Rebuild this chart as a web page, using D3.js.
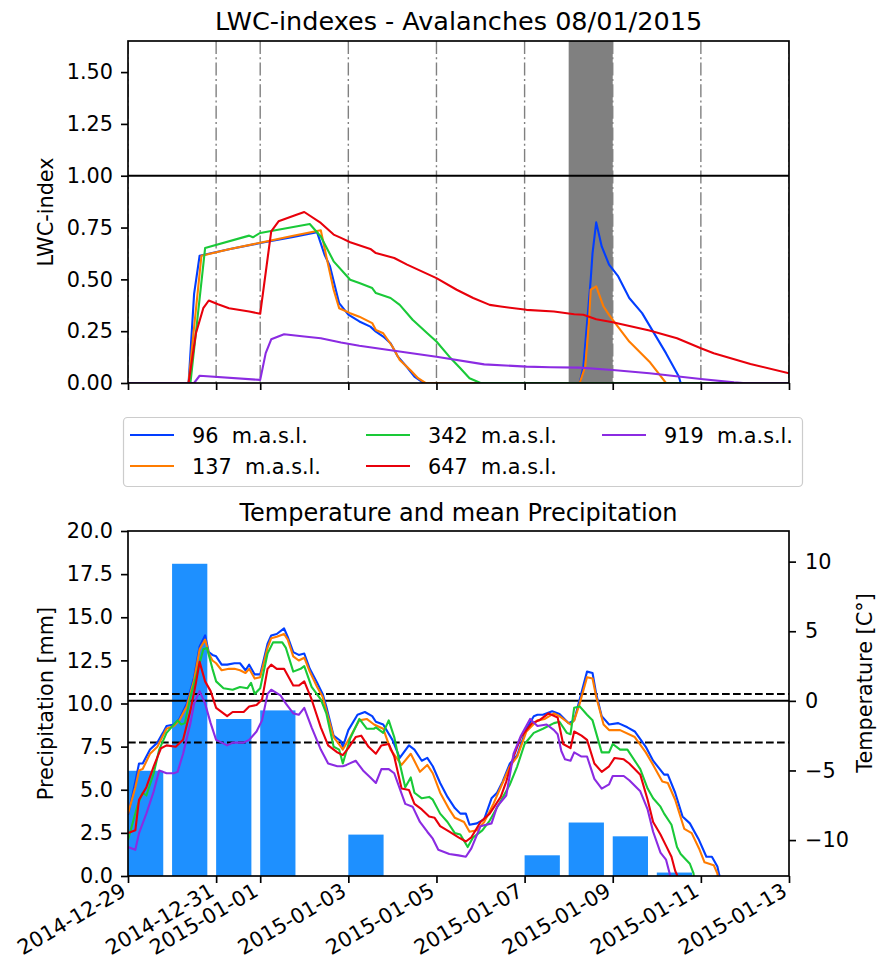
<!DOCTYPE html>
<html>
<head>
<meta charset="utf-8">
<script src="https://cdn.jsdelivr.net/npm/d3@7"></script>
<style>
  body { margin: 0; background: #fff; }
  text { font-family: "DejaVu Sans", sans-serif; fill: #000; }
</style>
</head>
<body>
<svg id="chart" width="880" height="971"></svg>
<script>
// ---- data -------------------------------------------------------------
// time stamps are hours after 2014-12-29 00:00
const seriesStart = "2014-12-29";
const elevations = ["96", "137", "342", "647", "919"];
const seriesColors = ["#023eff", "#ff7c00", "#1ac938", "#e8000b", "#8b2be2"];

const tickDates = ["2014-12-29", "2014-12-31", "2015-01-01", "2015-01-03", "2015-01-05",
                   "2015-01-07", "2015-01-09", "2015-01-11", "2015-01-13"];
const avalancheDay = ["2015-01-08", "2015-01-09"];

const lwcTicks = [0, 0.25, 0.5, 0.75, 1.0, 1.25, 1.5];
const precipTicks = [0, 2.5, 5, 7.5, 10, 12.5, 15, 17.5, 20];
const tempTicks = [-10, -5, 0, 5, 10];
const tempDashed = [0.5, -3];

// LWC-index per station: [hour, index]
const lwc96 = [[0,0],[33,0],[36,0.43],[39,0.614],[55,0.645],[72,0.675],[90,0.705],[103,0.727],
  [107,0.62],[110,0.563],[115,0.385],[120,0.33],[126,0.297],[132,0.272],[135,0.248],[139,0.224],
  [143,0.192],[147,0.127],[152,0.076],[156,0.031],[161,0],[246,0],[248,0.079],[250,0.289],
  [252,0.498],[253,0.627],[255,0.775],[258,0.659],[262,0.571],[267,0.514],[273,0.41],[280,0.337],
  [286,0.248],[293,0.144],[300,0.031],[301,0],[360,0]];
const lwc137 = [[0,0],[33,0],[36,0.27],[40,0.614],[55,0.645],[72,0.677],[90,0.71],[105,0.737],
  [108,0.611],[112,0.45],[115,0.361],[121,0.337],[126,0.32],[133,0.289],[135,0.256],[139,0.24],
  [144,0.176],[148,0.111],[154,0.06],[158,0.023],[162,0],[246,0],[249,0.079],[251,0.289],
  [252,0.45],[255,0.466],[259,0.369],[262,0.329],[264,0.305],[273,0.2],[284,0.103],[293,0],[360,0]];
const lwc342 = [[0,0],[34,0],[42,0.651],[66,0.711],[68,0.703],[72,0.724],[99,0.767],[105,0.707],
  [112,0.587],[121,0.498],[126,0.482],[133,0.458],[135,0.434],[143,0.41],[148,0.377],[155,0.305],
  [163,0.24],[168,0.2],[175,0.127],[181,0.071],[186,0.023],[192,0],[360,0]];
const lwc647 = [[0,0],[33,0],[37,0.24],[41,0.361],[44,0.398],[49,0.38],[55,0.361],[66,0.345],
  [72,0.334],[78,0.732],[82,0.78],[91,0.809],[96,0.825],[105,0.772],[112,0.716],[116,0.70],
  [121,0.679],[132,0.647],[135,0.627],[145,0.603],[152,0.571],[168,0.506],[179,0.45],[188,0.41],
  [197,0.377],[203,0.369],[217,0.353],[232,0.345],[243,0.332],[248,0.329],[255,0.308],[264,0.293],
  [284,0.253],[299,0.216],[312,0.168],[319,0.144],[339,0.092],[360,0.047]];
const lwc919 = [[0,0],[36,0],[39,0.035],[72,0.015],[75,0.144],[78,0.211],[85,0.235],[96,0.224],
  [105,0.216],[116,0.195],[126,0.18],[145,0.156],[168,0.127],[194,0.09],[217,0.079],[230,0.076],
  [246,0.074],[264,0.063],[284,0.047],[312,0.019],[330,0.003],[335,0],[360,0]];

// air temperature per station: [hour, degC]
const temp96 = [[0,-8.2],[4,-5.8],[6,-4.5],[8,-4.5],[12,-3.5],[16,-3.0],[19,-2.3],[21,-1.8],[25,-1.7],
  [28,-1.3],[32,-0.2],[36,1.7],[39,3.9],[42,4.7],[44,3.5],[46,3.3],[48,3.2],[51,2.6],[54,2.6],[58,2.7],
  [61,2.7],[64,2.2],[66,2.6],[69,1.9],[72,1.9],[76,4.1],[78,4.7],[81,4.8],[85,5.2],[87,4.6],[90,3.5],
  [93,3.3],[96,3.4],[99,2.3],[103,1.3],[106,0.5],[108,-0.4],[112,-2.5],[116,-2.9],[117,-3.3],[120,-2.1],
  [125,-1.0],[129,-0.8],[133,-1.1],[135,-1.5],[139,-1.7],[144,-2.8],[148,-4.1],[153,-3.2],[156,-3.5],
  [160,-4.3],[163,-4.1],[166,-4.7],[170,-5.9],[174,-6.9],[178,-7.7],[181,-8.1],[184,-8.1],[186,-8.9],
  [190,-8.8],[194,-8.5],[198,-7.0],[201,-6.6],[204,-5.8],[208,-4.5],[212,-3.9],[217,-2.0],[221,-1.1],
  [223,-1.0],[226,-1.0],[231,-0.75],[235,-0.95],[240,-1.6],[243,-1.4],[246,0.1],[250,2.1],[253,2.0],
  [255,0.5],[258,-1.1],[262,-1.7],[267,-1.6],[272,-1.9],[276,-2.2],[282,-3.3],[286,-4.3],[292,-5.3],
  [294,-5.3],[298,-6.6],[302,-8.3],[306,-8.8],[311,-10.0],[315,-11.2],[318,-11.2],[321,-11.9],
  [322,-12.5],[324,-13.5]];
const temp137 = [[0,-8.1],[4,-6.2],[6,-5.0],[8,-4.9],[12,-3.8],[16,-3.3],[19,-2.5],[21,-2.0],[25,-1.8],
  [28,-1.4],[32,-0.4],[36,1.5],[39,3.7],[42,4.4],[44,3.4],[46,2.9],[48,2.7],[51,2.2],[55,2.3],[58,2.3],
  [61,2.2],[64,2.0],[66,2.3],[69,1.6],[72,1.7],[76,3.8],[78,4.5],[81,4.6],[85,4.8],[87,4.4],[90,3.2],
  [93,2.9],[96,3.1],[99,2.1],[103,1.0],[106,0.3],[108,-0.7],[112,-2.6],[116,-3.3],[117,-3.5],[121,-2.6],
  [126,-1.4],[130,-1.3],[134,-1.7],[139,-2.0],[143,-3.5],[149,-4.6],[154,-3.8],[159,-5.1],[163,-4.6],
  [166,-5.2],[170,-6.6],[175,-7.8],[178,-8.4],[183,-8.7],[186,-9.4],[190,-9.3],[194,-8.7],[199,-7.4],
  [204,-5.9],[208,-4.7],[212,-4.0],[217,-2.2],[223,-1.4],[227,-1.3],[232,-0.9],[235,-1.1],[241,-1.7],
  [243,-1.4],[246,-0.2],[250,1.7],[253,1.6],[255,0.3],[259,-1.7],[262,-2.1],[268,-2.1],[276,-2.6],
  [282,-3.7],[286,-4.6],[291,-5.8],[294,-5.9],[298,-7.1],[303,-9.2],[307,-9.5],[311,-10.6],[314,-11.6],
  [319,-11.8],[321,-12.4],[322,-13.5]];
const temp342 = [[0,-10.0],[5,-7.6],[7,-6.9],[8,-6.6],[10,-6.8],[14,-5.2],[17,-3.5],[21,-2.3],[27,-1.4],
  [29,-1.7],[31,-1.6],[34,0.3],[38,2.2],[41,3.7],[43,3.8],[46,2.3],[48,1.4],[52,0.9],[57,0.8],[61,1.0],
  [65,0.9],[67,1.3],[69,0.5],[72,0.9],[76,3.4],[79,4.2],[84,4.2],[86,3.8],[90,2.1],[94,2.3],[96,2.5],
  [100,1.0],[105,0.1],[108,-0.9],[112,-3.3],[115,-3.5],[117,-4.5],[121,-2.7],[126,-1.3],[130,-2.0],
  [134,-2.0],[135,-1.9],[139,-2.3],[142,-1.4],[145,-2.6],[148,-4.5],[151,-6.2],[154,-5.5],[156,-6.6],
  [160,-7.0],[164,-6.9],[166,-7.1],[170,-8.1],[174,-8.7],[178,-9.5],[181,-9.6],[185,-10.5],[188,-9.8],
  [193,-9.3],[197,-8.6],[203,-7.2],[208,-6.0],[212,-4.7],[216,-3.1],[221,-2.3],[226,-2.0],[232,-1.6],
  [235,-1.5],[239,-2.3],[241,-2.4],[243,-0.5],[246,-0.4],[250,-1.0],[253,-1.4],[258,-3.7],[262,-3.7],
  [264,-3.1],[268,-3.5],[272,-3.5],[277,-4.5],[279,-4.9],[283,-6.3],[286,-7.0],[290,-7.6],[292,-8.1],
  [296,-8.9],[299,-10.5],[301,-11.0],[306,-11.7],[308,-12.4],[309,-13.5]];
const temp647 = [[0,-9.5],[4,-9.3],[6,-7.1],[10,-6.2],[14,-4.7],[18,-3.4],[21,-3.2],[26,-3.3],[30,-2.8],
  [34,-0.7],[37,1.3],[39,2.8],[42,1.4],[45,0.7],[48,-0.5],[54,-1.1],[57,-0.8],[63,-0.8],[66,-0.4],
  [70,-0.3],[73,0.1],[76,2.3],[78,2.6],[81,2.3],[85,2.3],[90,1.1],[93,1.1],[96,1.4],[100,0.1],[105,-1.9],
  [109,-3.2],[114,-3.7],[117,-3.9],[120,-3.4],[124,-2.6],[127,-2.5],[131,-3.3],[135,-3.8],[138,-3.2],
  [142,-3.1],[145,-4.0],[149,-6.3],[153,-6.4],[156,-7.4],[160,-7.8],[164,-8.3],[167,-8.4],[170,-9.0],
  [175,-9.4],[180,-9.8],[184,-10.1],[187,-9.8],[192,-8.7],[197,-8.1],[203,-6.9],[206,-5.8],[210,-4.0],
  [214,-2.6],[220,-1.6],[224,-1.4],[229,-0.9],[234,-1.2],[237,-3.1],[241,-3.4],[243,-2.2],[247,-2.5],
  [250,-2.8],[254,-4.5],[258,-5.1],[262,-4.7],[265,-4.1],[270,-4.2],[273,-4.5],[279,-5.3],[283,-7.1],
  [286,-8.7],[290,-9.6],[293,-10.4],[296,-11.2],[298,-12.2],[299,-12.5],[300,-13.5]];
const temp919 = [[0,-10.5],[4,-10.7],[6,-9.5],[10,-8.1],[14,-6.5],[17,-5.0],[21,-5.2],[25,-5.2],[27,-5.1],
  [30,-3.8],[34,-1.6],[36,-0.2],[39,0.7],[42,-0.2],[45,-1.6],[48,-2.8],[54,-3.2],[57,-3.0],[63,-3.0],
  [66,-2.8],[70,-2.2],[73,-1.4],[76,0.5],[78,0.8],[83,0.4],[86,-0.2],[90,-0.9],[93,-1.0],[96,-0.5],
  [100,-1.9],[105,-3.5],[109,-4.5],[114,-4.7],[117,-4.7],[119,-4.6],[124,-4.3],[128,-5.0],[132,-5.5],
  [135,-5.9],[138,-4.9],[142,-4.9],[145,-5.2],[151,-7.4],[155,-7.6],[159,-8.7],[163,-9.4],[166,-9.9],
  [169,-10.7],[175,-11.0],[180,-11.1],[184,-11.2],[187,-10.6],[192,-9.0],[198,-8.8],[201,-7.6],
  [206,-6.8],[210,-3.8],[214,-2.5],[219,-1.3],[223,-1.8],[228,-1.7],[232,-2.1],[234,-2.4],[236,-3.6],
  [238,-4.2],[241,-4.3],[243,-3.7],[247,-4.0],[250,-4.0],[254,-5.6],[258,-6.3],[262,-6.0],[264,-5.4],
  [270,-5.4],[273,-5.7],[279,-6.5],[283,-7.8],[286,-9.4],[290,-10.9],[293,-11.4],[295,-12.4],[296,-13.5]];

// daily precipitation, mm
const precipDays = ["2014-12-29", "2014-12-30", "2014-12-31", "2015-01-01", "2015-01-02", "2015-01-03",
  "2015-01-04", "2015-01-05", "2015-01-06", "2015-01-07", "2015-01-08", "2015-01-09", "2015-01-10",
  "2015-01-11", "2015-01-12"];
const precipMm = [6.1, 18.1, 9.1, 9.6, 0, 2.4, 0, 0, 0, 1.2, 3.1, 2.3, 0.2, 0, 0];

const lwcSeries = [lwc96, lwc137, lwc342, lwc647, lwc919];
const tempSeries = [temp96, temp137, temp342, temp647, temp919];

// ---- helpers ------------------------------------------------------------
const day = s => new Date(s + "T00:00:00Z");
const t0 = day(seriesStart).getTime();
const at = h => new Date(t0 + h * 3600e3);

const FS = 20.8;           // tick / label font size
const SPINE = 1.67;
const LW = 2.1;            // data line width
const svg = d3.select("#chart");

const L = 128, R = 789;
const top1 = 41, bot1 = 383;
const top2 = 531, bot2 = 876;

const x = d3.scaleUtc().domain([day(tickDates[0]), day(tickDates[tickDates.length - 1])]).range([L, R]);
const yLwc = d3.scaleLinear().domain([0, 1.65]).range([bot1, top1]);
const yPrc = d3.scaleLinear().domain([0, 20]).range([bot2, top2]);
const yTmp = d3.scaleLinear().domain([-12.58, 12.2]).range([bot2, top2]);
const ticks = tickDates.map(day);

function styleAxis(g) {
  g.selectAll(".domain").remove();
  g.selectAll(".tick line").attr("stroke", "#000").attr("stroke-width", SPINE);
  g.selectAll(".tick text").style("font-size", FS + "px").attr("fill", "#000");
}

const defs = svg.append("defs");
defs.append("clipPath").attr("id", "clipTop")
  .append("rect").attr("x", L).attr("y", top1).attr("width", R - L).attr("height", bot1 - top1);
defs.append("clipPath").attr("id", "clipBot")
  .append("rect").attr("x", L).attr("y", top2).attr("width", R - L).attr("height", bot2 - top2);

// ---- upper panel: LWC-index --------------------------------------------
svg.append("text").attr("x", (L + R) / 2).attr("y", 30).attr("text-anchor", "middle")
  .style("font-size", "25.5px").text("LWC-indexes - Avalanches 08/01/2015");

const gTop = svg.append("g").attr("clip-path", "url(#clipTop)");

gTop.append("rect")
  .attr("x", x(day(avalancheDay[0]))).attr("y", top1)
  .attr("width", x(day(avalancheDay[1])) - x(day(avalancheDay[0])))
  .attr("height", bot1 - top1).attr("fill", "#808080");

gTop.selectAll("line.grid").data(ticks).join("line").attr("class", "grid")
  .attr("x1", d => x(d)).attr("x2", d => x(d)).attr("y1", top1).attr("y2", bot1)
  .attr("stroke", "#808080").attr("stroke-width", 1.4)
  .attr("stroke-dasharray", "13,3.3,2,3.3");

gTop.append("line").attr("x1", L).attr("x2", R).attr("y1", yLwc(1)).attr("y2", yLwc(1))
  .attr("stroke", "#000").attr("stroke-width", 2);

const lwcLine = d3.line().x(d => x(at(d[0]))).y(d => yLwc(d[1]));
gTop.selectAll("path.lwc").data(lwcSeries).join("path").attr("class", "lwc")
  .attr("d", lwcLine).attr("fill", "none")
  .attr("stroke", (d, i) => seriesColors[i]).attr("stroke-width", LW)
  .attr("stroke-linejoin", "round");

svg.append("g").attr("transform", `translate(${L},0)`)
  .call(d3.axisLeft(yLwc).tickValues(lwcTicks).tickFormat(d3.format(".2f")).tickSize(7).tickPadding(8))
  .call(styleAxis);
svg.append("g").attr("transform", `translate(0,${bot1})`)
  .call(d3.axisBottom(x).tickValues(ticks).tickFormat("").tickSize(7))
  .call(styleAxis);

svg.append("rect").attr("x", L).attr("y", top1).attr("width", R - L).attr("height", bot1 - top1)
  .attr("fill", "none").attr("stroke", "#000").attr("stroke-width", SPINE);

svg.append("text").attr("transform", `translate(53,${(top1 + bot1) / 2}) rotate(-90)`)
  .attr("text-anchor", "middle").style("font-size", FS + "px").text("LWC-index");

// ---- legend -------------------------------------------------------------
const legend = svg.append("g");
legend.append("rect").attr("x", 123.5).attr("y", 417.5).attr("width", 679).attr("height", 69)
  .attr("rx", 4).attr("fill", "#fff").attr("stroke", "#cccccc").attr("stroke-width", 1.2);
const legCols = [130, 366, 602], legRows = [435, 466];
elevations.forEach((e, i) => {
  const cx = legCols[Math.floor(i / 2)], cy = legRows[i % 2];
  legend.append("line").attr("x1", cx).attr("x2", cx + 44).attr("y1", cy).attr("y2", cy)
    .attr("stroke", seriesColors[i]).attr("stroke-width", LW);
  legend.append("text").attr("x", cx + 62).attr("y", cy + 7.5)
    .style("font-size", FS + "px").style("white-space", "pre").text(`${e}  m.a.s.l.`);
});

// ---- lower panel: temperature and precipitation ------------------------
svg.append("text").attr("x", (L + R) / 2).attr("y", 521).attr("text-anchor", "middle")
  .style("font-size", "24px").text("Temperature and mean Precipitation");

const gBot = svg.append("g").attr("clip-path", "url(#clipBot)");

const barW = d => x(new Date(day(d).getTime() + 0.8 * 864e5)) - x(day(d));
gBot.selectAll("rect.bar").data(precipDays.map((d, i) => [d, precipMm[i]])).join("rect")
  .attr("class", "bar")
  .attr("x", d => x(day(d[0]))).attr("width", d => barW(d[0]))
  .attr("y", d => yPrc(d[1])).attr("height", d => yPrc(0) - yPrc(d[1]))
  .attr("fill", "#1e90ff");

gBot.append("line").attr("x1", L).attr("x2", R).attr("y1", yTmp(0)).attr("y2", yTmp(0))
  .attr("stroke", "#000").attr("stroke-width", 2);
gBot.selectAll("line.thr").data(tempDashed).join("line").attr("class", "thr")
  .attr("x1", L).attr("x2", R).attr("y1", d => yTmp(d)).attr("y2", d => yTmp(d))
  .attr("stroke", "#000").attr("stroke-width", 2).attr("stroke-dasharray", "7.7,3.3");

const tmpLine = d3.line().x(d => x(at(d[0]))).y(d => yTmp(d[1]));
gBot.selectAll("path.tmp").data(tempSeries).join("path").attr("class", "tmp")
  .attr("d", tmpLine).attr("fill", "none")
  .attr("stroke", (d, i) => seriesColors[i]).attr("stroke-width", LW)
  .attr("stroke-linejoin", "round");

svg.append("g").attr("transform", `translate(${L},0)`)
  .call(d3.axisLeft(yPrc).tickValues(precipTicks).tickFormat(d3.format(".1f")).tickSize(7).tickPadding(8))
  .call(styleAxis);
svg.append("g").attr("transform", `translate(${R},0)`)
  .call(d3.axisRight(yTmp).tickValues(tempTicks).tickFormat(d3.format("d")).tickSize(7).tickPadding(9))
  .call(styleAxis);
const xAxis = svg.append("g").attr("transform", `translate(0,${bot2})`)
  .call(d3.axisBottom(x).tickValues(ticks).tickFormat(d3.utcFormat("%Y-%m-%d")).tickSize(7))
  .call(styleAxis);
xAxis.selectAll(".tick text")
  .attr("text-anchor", "end").attr("dy", null).attr("y", 19).attr("x", -1)
  .attr("transform", "rotate(-30,-1,19)");

svg.append("rect").attr("x", L).attr("y", top2).attr("width", R - L).attr("height", bot2 - top2)
  .attr("fill", "none").attr("stroke", "#000").attr("stroke-width", SPINE);

svg.append("text").attr("transform", `translate(53,${(top2 + bot2) / 2}) rotate(-90)`)
  .attr("text-anchor", "middle").style("font-size", FS + "px").text("Precipitation [mm]");
svg.append("text").attr("transform", `translate(872,683) rotate(-90)`)
  .attr("text-anchor", "middle").style("font-size", FS + "px").text("Temperature [C°]");
</script>
</body>
</html>
